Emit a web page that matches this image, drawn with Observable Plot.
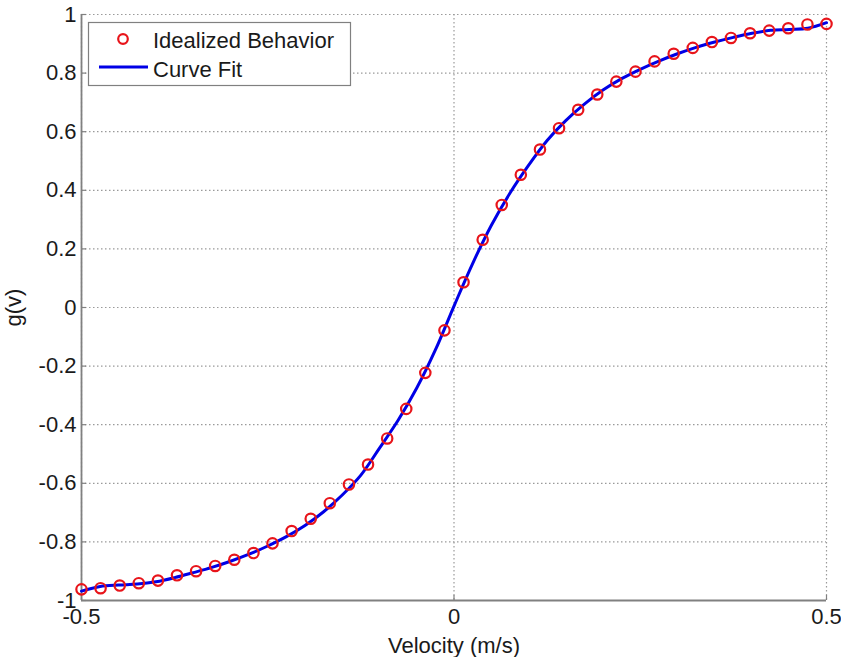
<!DOCTYPE html>
<html><head><meta charset="utf-8">
<script src="https://cdn.jsdelivr.net/npm/d3@7"></script>
<script src="https://cdn.jsdelivr.net/npm/@observablehq/plot@0.6"></script>
<style>body{margin:0;background:#fff}</style>
</head><body><div id="chart"></div>
<script>
// Idealized behaviour (circles)
const pointX = [-0.5,-0.4744,-0.4487,-0.4231,-0.3974,-0.3718,-0.3462,-0.3205,-0.2949,-0.2692,
  -0.2436,-0.2179,-0.1923,-0.1667,-0.1410,-0.1154,-0.0897,-0.0641,-0.0385,-0.0128,
  0.0128,0.0385,0.0641,0.0897,0.1154,0.1410,0.1667,0.1923,0.2179,0.2436,
  0.2692,0.2949,0.3205,0.3462,0.3718,0.3974,0.4231,0.4487,0.4744,0.5];
const pointY = [-0.962,-0.958,-0.949,-0.941,-0.932,-0.914,-0.900,-0.882,-0.861,-0.838,
  -0.805,-0.763,-0.721,-0.668,-0.604,-0.536,-0.447,-0.346,-0.223,-0.078,
  0.086,0.231,0.350,0.453,0.539,0.612,0.675,0.727,0.771,0.805,
  0.840,0.866,0.886,0.906,0.920,0.936,0.945,0.953,0.966,0.968];
// Curve fit (line)
const curveX = [-0.5,-0.475,-0.45,-0.425,-0.4,-0.375,-0.35,-0.325,-0.3,-0.275,
  -0.25,-0.225,-0.2,-0.175,-0.15,-0.125,-0.1,-0.075,-0.05,-0.025,
  0,0.025,0.05,0.075,0.1,0.125,0.15,0.175,0.2,0.225,
  0.25,0.275,0.3,0.325,0.35,0.375,0.4,0.425,0.45,0.475,0.5];
const curveY = [-0.968,-0.952,-0.947,-0.944,-0.936,-0.922,-0.905,-0.887,-0.866,-0.842,
  -0.814,-0.782,-0.744,-0.697,-0.640,-0.572,-0.480,-0.385,-0.275,-0.145,
  0.005,0.150,0.280,0.390,0.485,0.570,0.638,0.694,0.742,0.781,
  0.813,0.841,0.866,0.888,0.906,0.922,0.936,0.946,0.949,0.953,0.972];
const xTicks = [-0.5, 0, 0.5];
const xTickLabels = ["-0.5", "0", "0.5"];
const yTicks = [-1,-0.8,-0.6,-0.4,-0.2,0,0.2,0.4,0.6,0.8,1];
const yTickLabels = ["-1","-0.8","-0.6","-0.4","-0.2","0","0.2","0.4","0.6","0.8","1"];
const seriesNames = ["Idealized Behavior", "Curve Fit"];

const points = pointX.map((x, i) => ({x, y: pointY[i]}));
const curve = curveX.map((x, i) => ({x, y: curveY[i]}));

const W = 841, H = 657, mL = 81, mR = 15, mT = 14, mB = 57;
const fw = W - mL - mR, fh = H - mT - mB;
const FONT = "'Liberation Sans', Arial, Helvetica, sans-serif";

const plot = Plot.plot({
  width: W, height: H,
  marginLeft: mL, marginRight: mR, marginTop: mT, marginBottom: mB,
  style: {fontFamily: FONT, fontSize: "22px", color: "#1a1a1a", background: "#fff"},
  x: {domain: [-0.5, 0.5]},
  y: {domain: [-1, 1]},
  marks: [
    Plot.gridX(xTicks, {stroke: "#9a9a9a", strokeOpacity: 1, strokeWidth: 1.2, strokeDasharray: "1.5,2.5"}),
    Plot.gridY(yTicks, {stroke: "#9a9a9a", strokeOpacity: 1, strokeWidth: 1.2, strokeDasharray: "1.5,2.5"}),
    Plot.tickY(yTicks, {y: d => d, stroke: "#808080", strokeWidth: 1.2, insetRight: fw - 5}),
    Plot.tickX(xTicks, {x: d => d, stroke: "#808080", strokeWidth: 1.2, insetTop: fh - 5}),
    Plot.ruleX([-0.5], {stroke: "#808080", strokeWidth: 1.8}),
    Plot.ruleY([-1], {stroke: "#808080", strokeWidth: 1.8}),
    Plot.axisX(xTicks, {tickSize: 0, tickPadding: 8, tickFormat: (d, i) => xTickLabels[i],
      label: "Velocity (m/s)", labelAnchor: "center", labelArrow: "none", labelOffset: 52, fill: "#1a1a1a"}),
    Plot.axisY(yTicks, {tickSize: 0, tickPadding: 5, tickFormat: (d, i) => yTickLabels[i],
      label: "g(v)", labelAnchor: "center", labelArrow: "none", labelOffset: 76, fill: "#1a1a1a"}),
    Plot.line(curve, {x: "x", y: "y", stroke: "#0000e6", strokeWidth: 3, curve: "catmull-rom"}),
    Plot.dot(points, {x: "x", y: "y", r: 5.2, stroke: "#e8141a", strokeWidth: 2.2, fill: "none"})
  ]
});
document.getElementById("chart").appendChild(plot);

// Legend (inside the plot, top-left)
const svg = d3.select(plot);
const lg = svg.append("g").attr("font-family", FONT).attr("font-size", 22)
  .attr("fill", "#1a1a1a").attr("text-anchor", "start");
lg.append("rect").attr("x", 88.5).attr("y", 22.5).attr("width", 262).attr("height", 63)
  .attr("fill", "#fff").attr("stroke", "#808080").attr("stroke-width", 1.2);
lg.append("circle").attr("cx", 123).attr("cy", 39).attr("r", 4.8)
  .attr("fill", "none").attr("stroke", "#e8141a").attr("stroke-width", 2.2);
lg.append("line").attr("x1", 99).attr("x2", 148).attr("y1", 67).attr("y2", 67)
  .attr("stroke", "#0000e6").attr("stroke-width", 3);
lg.append("text").attr("x", 153).attr("y", 48).attr("text-anchor", "start").text(seriesNames[0]);
lg.append("text").attr("x", 153).attr("y", 77).attr("text-anchor", "start").text(seriesNames[1]);
</script>
</body></html>
